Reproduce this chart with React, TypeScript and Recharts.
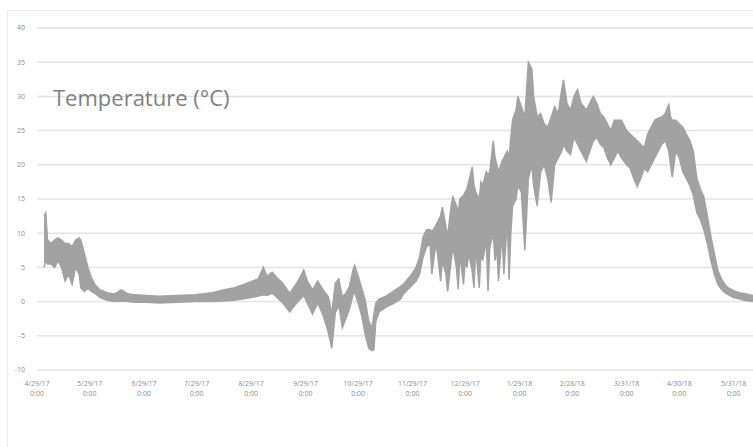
import React from "react";
import { ComposedChart, Area, XAxis, YAxis, CartesianGrid } from "recharts";

// days since 4/29/17 0:00
const tickDays = [0, 30, 61, 91, 122, 153, 183, 214, 244, 275, 305, 336, 366, 397];
const tickLabels = ["4/29/17", "5/29/17", "6/29/17", "7/29/17", "8/29/17", "9/29/17", "10/29/17", "11/29/17", "12/29/17", "1/29/18", "2/28/18", "3/31/18", "4/30/18", "5/31/18"];
const yTicks = [-10, -5, 0, 5, 10, 15, 20, 25, 30, 35, 40];

const days = [
  4, 5, 6, 8, 10, 12, 14, 16, 18, 20, 22, 24, 25, 27, 29, 31, 33, 36, 40, 44, 48, 52, 56, 62, 70, 80, 90, 100, 106, 112, 118, 122, 126,
  129, 131, 134, 136, 140, 144, 148, 152, 154, 157, 160, 163, 166, 168, 170, 172, 174, 176, 178, 180, 181, 183, 185, 187, 189, 191, 192, 193, 195, 199, 203, 207,
  209, 213, 216, 218, 220, 222, 224, 225, 227, 228, 230, 231, 233, 234, 236, 237, 239, 240, 241, 243, 244, 245, 246, 248, 249, 250, 252, 253, 254, 256, 257, 258, 260, 261, 262, 263, 265, 266, 268, 269, 270,
  271, 273, 274, 276, 278, 280, 282, 283, 285, 287, 289, 291, 293, 295, 297, 299, 300, 302, 304, 306, 308, 310, 313, 315, 317, 319, 321, 323, 325, 327,
  329, 331, 333, 336, 338, 340, 342, 344, 346, 348, 350, 352, 354, 356, 358, 360, 361, 362, 364, 366, 368, 370, 372, 374, 376, 378, 380, 382, 384, 386,
  388, 390, 392, 394, 397, 400, 403, 406, 408,
];
const lows = [
  5, 6, 5.5, 5.5, 5, 6, 5, 3, 4, 2.5, 5, 4, 2, 1.5, 2, 1.5, 1.2, 0.6, 0.2, 0.0, 0.1, 0.0, -0.1, -0.1, -0.2, -0.1, 0.0, 0.0, 0.1, 0.2, 0.4, 0.6, 0.8,
  1.0, 0.9, 1.2, 0.8, -0.2, -1.5, -0.2, 0.9, -0.2, -1.8, -0.2, -2.0, -4.5, -6.8, -1.6, -0.6, -3.8, -2.5, -1.1, 0.9, 1.4, -0.2, -2.0, -4.8, -6.8, -7.2, -7.0, -3.0, -1.5, -0.8, -0.3, 0.3,
  1.2, 2.2, 3.0, 4.0, 6.5, 8.0, 8.5, 4.0, 8.0, 7.5, 3.0, 6.0, 4.0, 1.5, 6.0, 8.0, 5.0, 1.8, 7.0, 2.5, 6.0, 5.0, 7.0, 4.5, 2.0, 8.0, 2.0, 7.0, 6.0, 9.0, 1.5, 8.0, 10.0, 6.0, 8.0, 3.0, 10.0, 4.0, 12.0, 3.2, 10.0,
  14.0, 15.0, 17.0, 16.0, 7.5, 18.0, 20.0, 17.0, 14.0, 19.0, 20.0, 18.0, 14.5, 20.0, 21.0, 22.0, 23.0, 22.0, 21.5, 24.0, 23.0, 22.0, 20.5, 22.0, 23.5, 24.0, 23.0, 22.5, 21.0, 20.0,
  21.0, 22.0, 21.0, 20.0, 19.5, 18.0, 16.8, 18.0, 19.5, 19.0, 20.0, 21.0, 22.0, 23.0, 23.5, 22.0, 20.0, 18.2, 22.0, 21.0, 19.0, 18.0, 17.0, 15.5, 13.0, 12.0, 10.5, 8.5, 6.0, 4.0,
  2.5, 1.8, 1.3, 1.0, 0.6, 0.4, 0.2, 0.1, 0.0,
];
const highs = [
  12.5, 13, 9, 8.5, 9, 9.3, 9, 8.5, 8.5, 8, 9, 9.3, 9, 7, 5, 3.5, 2.5, 1.7, 1.3, 1.1, 1.7, 1.1, 1.0, 0.9, 0.8, 0.9, 1.0, 1.3, 1.7, 2.0, 2.5, 2.9, 3.3,
  5.0, 3.7, 4.3, 3.7, 2.7, 1.2, 2.7, 4.6, 3.0, 1.7, 3.0, 1.7, 0.7, -1.8, 2.7, 3.3, 0.7, 1.2, 2.2, 4.5, 5.3, 3.7, 2.0, 0.2, -2.8, -3.8, -1.8, -0.3, 0.4, 0.8, 1.5, 2.2,
  2.6, 3.8, 5.0, 6.5, 9.5, 10.5, 10.5, 10.2, 11.0, 11.5, 12.5, 13.8, 11.0, 9.5, 14.0, 15.3, 14.0, 13.0, 15.0, 15.5, 16.0, 16.5, 17.5, 19.7, 17.0, 16.0, 15.0, 17.5, 17.0, 19.0, 18.5, 19.0, 23.5, 21.0, 20.0, 19.0, 20.5, 21.0, 22.0, 21.0, 24.0,
  26.6, 28.0, 30.0, 28.5, 27.0, 35.0, 34.0, 30.0, 27.0, 27.5, 26.0, 25.5, 27.0, 28.5, 27.5, 31.0, 32.4, 29.0, 28.0, 30.0, 31.0, 29.0, 28.0, 29.0, 30.0, 29.0, 27.5, 27.0, 26.0, 25.0,
  26.5, 26.5, 26.5, 25.0, 24.5, 24.0, 23.5, 23.0, 22.5, 24.5, 25.5, 26.5, 26.8, 27.0, 27.5, 28.8, 27.0, 26.5, 26.5, 26.0, 25.5, 24.5, 23.5, 22.0, 18.0, 16.5, 15.3, 12.5, 9.5, 7.0,
  4.5, 3.3, 2.5, 2.0, 1.6, 1.3, 1.2, 1.0, 0.9,
];

const data = days.map((d, i) => ({ day: d, range: [lows[i], highs[i]] }));

const XTick = ({ x, y, payload }: any) => {
  const i = tickDays.indexOf(payload.value);
  return (
    <text x={x} y={y} textAnchor="middle" fontSize={7} fill="#8c8c8c" fontFamily="Open Sans, sans-serif">
      <tspan x={x} dy={8}>{tickLabels[i]}</tspan>
      <tspan x={x} dy={10}>0:00</tspan>
    </text>
  );
};

export default function App() {
  return (
    <div style={{ position: "absolute", left: 0, top: 0, width: 753, height: 447, overflow: "hidden", background: "#fff" }}>
      <div style={{ position: "absolute", left: 7, top: 10, width: 800, height: 500, border: "1px solid #ececec" }} />
      <ComposedChart width={753} height={447} data={data} margin={{ top: 28, right: 0, bottom: 37, left: 8 }}>
        <CartesianGrid vertical={false} stroke="#e4e4e4" strokeWidth={1.5} />
        <XAxis
          dataKey="day"
          type="number"
          domain={[0, 408]}
          ticks={tickDays}
          interval={0}
          tick={<XTick />}
          axisLine={false}
          tickLine={false}
          height={40}
        />
        <YAxis
          type="number"
          domain={[-10, 40]}
          ticks={yTicks}
          interval={0}
          width={29}
          axisLine={false}
          tickLine={false}
          tickSize={10}
          tick={{ fontSize: 7, fill: "#8c8c8c", fontFamily: "Open Sans, sans-serif" }}
        />
        <Area
          dataKey="range"
          type="linear"
          stroke="#a2a2a2"
          strokeWidth={1.5}
          fill="#a2a2a2"
          fillOpacity={1}
          isAnimationActive={false}
        />
      </ComposedChart>
      <div style={{ position: "absolute", left: 53, top: 82, fontSize: 22, color: "#7f7f7f", fontFamily: "Open Sans, sans-serif" }}>
        Temperature (°C)
      </div>
    </div>
  );
}
